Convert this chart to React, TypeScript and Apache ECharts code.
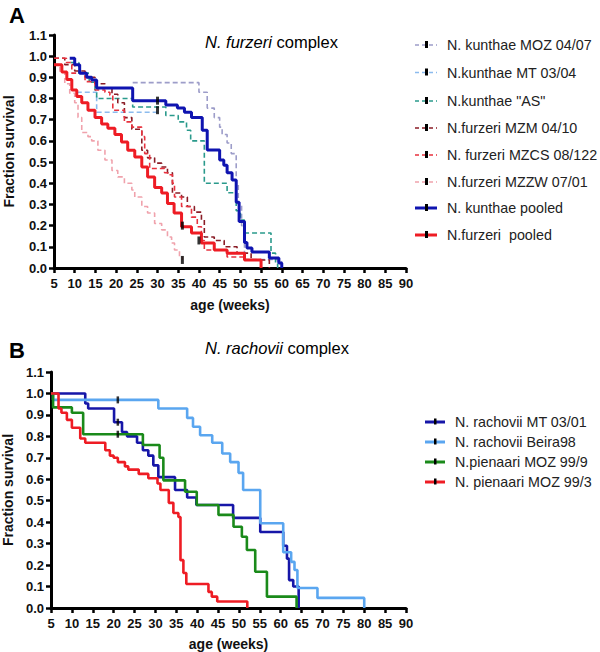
import React, { useEffect, useRef } from "react";
import * as echarts from "echarts";

const FONT = "'Liberation Sans', Arial, sans-serif";

// ---------- Panel A data (week, fraction surviving after that week) ----------
const aNames = [
  "N. kunthae MOZ 04/07",
  "N.kunthae MT 03/04",
  'N.kunthae "AS"',
  "N.furzeri MZM 04/10",
  "N. furzeri MZCS 08/122",
  "N.furzeri MZZW 07/01",
  "N. kunthae pooled",
  "N.furzeri  pooled",
];
const kuntMOZ0407 = [[24, 0.875], [40, 0.83], [42, 0.755], [43.7, 0.71], [45, 0.665], [45.6, 0.63], [46.8, 0.59], [47.8, 0.54], [49, 0.4], [49.5, 0.3], [50.3, 0.2], [51, 0.04], [59, 0.03], [60, 0]];
const kuntMT0304 = [[10.5, 0.83], [15.3, 0.735], [30, 0.735]];
const kuntAS = [[9, 0.97], [11, 0.92], [13.5, 0.877], [14.9, 0.84], [15.3, 0.8], [24, 0.76], [32, 0.72], [35, 0.69], [37, 0.65], [38, 0.6], [41.3, 0.4], [46.8, 0.355], [49, 0.27], [50, 0.226], [51, 0.165], [57.4, 0.07], [58.5, 0.02], [59, 0]];
const furzMZM0410 = [[5, 0.99], [7.6, 0.96], [10, 0.93], [12.5, 0.9], [14.9, 0.87], [17.3, 0.85], [19, 0.82], [20.4, 0.78], [22, 0.71], [23.8, 0.655], [26.2, 0.556], [27.6, 0.52], [29.3, 0.495], [31, 0.477], [32.4, 0.45], [33.6, 0.354], [35.8, 0.335], [37.2, 0.29], [38.9, 0.264], [40.6, 0.227], [41.3, 0.146], [43.7, 0.13], [46.1, 0.1], [49.2, 0.07], [52.6, 0.038], [57, 0]];
const furzMZCS08122 = [[5, 0.99], [8, 0.97], [9.3, 0.92], [12.5, 0.88], [14.9, 0.84], [17.3, 0.83], [18.5, 0.815], [19.2, 0.745], [22, 0.69], [23.8, 0.665], [26.2, 0.62], [26.9, 0.54], [28.1, 0.47], [31.7, 0.45], [32.4, 0.44], [33.6, 0.4], [34.1, 0.335], [35.8, 0.29], [38.2, 0.24], [39.6, 0.195], [40.6, 0.13], [41.3, 0.085], [46.8, 0.052], [50.9, 0.038], [55, 0]];
const furzMZZW0701 = [[5, 0.96], [6.4, 0.925], [7.6, 0.87], [8.8, 0.825], [10, 0.78], [10.8, 0.71], [11.7, 0.64], [13.2, 0.62], [14.1, 0.6], [15.6, 0.556], [17.3, 0.51], [19, 0.46], [20.4, 0.43], [22, 0.4], [23.8, 0.368], [24.5, 0.335], [26.2, 0.29], [27.6, 0.26], [29.3, 0.21], [31, 0.18], [32.4, 0.146], [33.4, 0.118], [34.1, 0.085], [35.3, 0.052], [36, 0.038]];
const kuntPooled = [[8.8, 0.99], [10, 0.96], [11.2, 0.92], [12.9, 0.9], [14.1, 0.887], [15.3, 0.85], [24, 0.79], [32, 0.77], [34.8, 0.755], [36.5, 0.735], [38.2, 0.71], [40.8, 0.65], [42, 0.557], [45, 0.51], [46, 0.485], [46.8, 0.45], [48, 0.415], [49, 0.31], [49.7, 0.22], [51, 0.12], [51.6, 0.095], [52.8, 0.075], [57, 0.047], [59.3, 0.024], [60, 0]];
const furzPooled = [[5, 0.96], [6.9, 0.925], [8.1, 0.89], [9.3, 0.84], [10.5, 0.81], [11.7, 0.78], [13.2, 0.745], [14.9, 0.71], [16.5, 0.68], [18, 0.66], [19.7, 0.63], [21.3, 0.595], [22.8, 0.556], [24.5, 0.524], [26.2, 0.477], [27.6, 0.43], [29.3, 0.38], [31, 0.354], [32.4, 0.305], [34, 0.26], [35.8, 0.195], [38.2, 0.165], [40.6, 0.118], [43.7, 0.085], [46.8, 0.07], [51, 0.038], [55, 0]];
const aSeries = [kuntMOZ0407, kuntMT0304, kuntAS, furzMZM0410, furzMZCS08122, furzMZZW0701, kuntPooled, furzPooled];
const aCensored = [[30, 0.79], [30, 0.745], [36, 0.2], [40, 0.13], [36, 0.038]];

// ---------- Panel B data ----------
const bNames = ["N. rachovii MT 03/01", "N. rachovii Beira98", "N.pienaari MOZ 99/9", "N. pienaari MOZ 99/3"];
const rachMT0301 = [[5, 1], [13.2, 0.953], [13.9, 0.93], [20.1, 0.866], [22, 0.82], [23.2, 0.8], [25.6, 0.77], [27, 0.735], [28.3, 0.71], [29.5, 0.665], [30.7, 0.61], [34.7, 0.55], [37.6, 0.515], [39.8, 0.48], [48.6, 0.42], [55.1, 0.354], [60.6, 0.29], [61.5, 0.23], [62, 0.13], [63, 0.1], [64.3, 0]];
const rachBeira98 = [[5, 1], [5.5, 0.97], [30.7, 0.93], [37.6, 0.886], [39, 0.845], [40.7, 0.805], [43.6, 0.77], [46, 0.72], [47.9, 0.68], [49.9, 0.63], [51, 0.55], [55.1, 0.395], [60.6, 0.26], [62.5, 0.215], [63.3, 0.177], [64, 0.093], [68.8, 0.047], [80, 0]];
const pienMOZ999 = [[5, 1], [5.5, 0.935], [10, 0.91], [12.7, 0.81], [27, 0.76], [31, 0.7], [31.9, 0.595], [37.1, 0.542], [39.9, 0.48], [45.1, 0.434], [48.7, 0.379], [50.7, 0.332], [51.9, 0.27], [53.9, 0.169], [56.7, 0.053], [63.8, 0]];
const pienMOZ993 = [[5, 1], [6.8, 0.93], [7.5, 0.91], [8.8, 0.877], [10, 0.84], [12, 0.79], [13.2, 0.77], [18, 0.735], [19.1, 0.71], [20, 0.7], [21, 0.68], [22.7, 0.66], [23.5, 0.645], [26, 0.625], [28.3, 0.605], [30.5, 0.58], [31.2, 0.55], [33.2, 0.49], [34.3, 0.443], [35.5, 0.424], [36, 0.223], [36.7, 0.163], [37.4, 0.112], [42.7, 0.075], [43.5, 0.053], [44.8, 0.03], [52, 0]];
const bSeries = [rachMT0301, rachBeira98, pienMOZ999, pienMOZ993];
const bCensored = [[21, 0.97], [21, 0.866], [21, 0.81]];

// ---------- styles ----------
const aColors = ["#9d9dc9", "#8cbbee", "#2a9a8c", "#8a1c26", "#e8323e", "#f0a2ac", "#0f14b0", "#ee1c24"];
const aDashed = [true, true, true, true, true, true, false, false];
const bColors = ["#1616a8", "#5aa6f0", "#1a8a1a", "#ee1c24"];

export default function App() {
  const ref = useRef<HTMLDivElement>(null);
  useEffect(() => {
    const chart = echarts.init(ref.current!, null, { renderer: "svg" });

    const xAxis = (gridIndex: number, nameGap: number) => ({
      type: "value",
      gridIndex,
      min: 5,
      max: 90,
      interval: 5,
      name: "age (weeks)",
      nameLocation: "middle",
      nameGap,
      nameTextStyle: { fontFamily: FONT, fontWeight: "bold", fontSize: 14, color: "#111" },
      axisLine: { show: true, onZero: false, lineStyle: { color: "#000", width: 3 } },
      axisTick: { show: true, length: 5, lineStyle: { color: "#000", width: 2.5 } },
      axisLabel: { fontFamily: FONT, fontWeight: "bold", fontSize: 13, color: "#111", margin: 9 },
      splitLine: { show: false },
    });
    const yAxis = (gridIndex: number, nameGap: number) => ({
      type: "value",
      gridIndex,
      min: 0,
      max: 1.1,
      interval: 0.1,
      name: "Fraction survival",
      nameLocation: "middle",
      nameGap,
      nameTextStyle: { fontFamily: FONT, fontWeight: "bold", fontSize: 14, color: "#111" },
      axisLine: { show: true, onZero: false, lineStyle: { color: "#000", width: 3 } },
      axisTick: { show: true, length: 5, lineStyle: { color: "#000", width: 2.5 } },
      axisLabel: {
        fontFamily: FONT,
        fontWeight: "bold",
        fontSize: 13,
        color: "#111",
        margin: 7,
        formatter: (v: number) => v.toFixed(1),
      },
      splitLine: { show: false },
    });

    const series: any[] = [];
    aSeries.forEach((d, i) => {
      series.push({
        type: "line",
        name: aNames[i],
        xAxisIndex: 0,
        yAxisIndex: 0,
        step: "end",
        data: d,
        symbol: "none",
        lineStyle: {
          color: aColors[i],
          width: aDashed[i] ? 1.6 : 3,
          type: aDashed[i] ? [5, 3] : "solid",
        },
        z: aDashed[i] ? 2 : 3,
      });
    });
    series.push({
      type: "scatter",
      xAxisIndex: 0,
      yAxisIndex: 0,
      data: aCensored,
      symbol: "rect",
      symbolSize: [3, 8],
      itemStyle: { color: "#000" },
      z: 5,
    });
    bSeries.forEach((d, i) => {
      series.push({
        type: "line",
        name: bNames[i],
        xAxisIndex: 1,
        yAxisIndex: 1,
        step: "end",
        data: d,
        symbol: "none",
        lineStyle: { color: bColors[i], width: 2.6 },
        z: 3,
      });
    });
    series.push({
      type: "scatter",
      xAxisIndex: 1,
      yAxisIndex: 1,
      data: bCensored,
      symbol: "rect",
      symbolSize: [2.5, 7],
      itemStyle: { color: "#000" },
      z: 5,
    });

    // legend drawn as graphic elements
    const graphic: any[] = [];
    const aRowY = [45, 72.5, 101, 128, 155, 182, 208, 235];
    aNames.forEach((n, i) => {
      const y = aRowY[i];
      graphic.push({
        type: "line",
        shape: { x1: 415, y1: y, x2: 437, y2: y },
        style: {
          stroke: aColors[i],
          lineWidth: aDashed[i] ? 1.6 : 3,
          lineDash: aDashed[i] ? [4, 3] : null,
        },
      });
      graphic.push({ type: "rect", shape: { x: 425, y: y - 4, width: 3, height: 7 }, style: { fill: "#000" } });
      graphic.push({
        type: "text",
        x: 447,
        y,
        style: { text: n, fontFamily: FONT, fontSize: 14.3, fill: "#222", verticalAlign: "middle" },
      });
    });
    const bRowY = [422, 442, 462, 482];
    bNames.forEach((n, i) => {
      const y = bRowY[i];
      graphic.push({
        type: "line",
        shape: { x1: 425, y1: y, x2: 445, y2: y },
        style: { stroke: bColors[i], lineWidth: 3 },
      });
      graphic.push({ type: "rect", shape: { x: 434, y: y - 3.5, width: 2.5, height: 6 }, style: { fill: "#000" } });
      graphic.push({
        type: "text",
        x: 455,
        y,
        style: { text: n, fontFamily: FONT, fontSize: 14.3, fill: "#222", verticalAlign: "middle" },
      });
    });
    graphic.push({
      type: "text",
      x: 9,
      y: 15,
      style: { text: "A", fontFamily: FONT, fontWeight: "bold", fontSize: 22, fill: "#000", verticalAlign: "middle" },
    });
    graphic.push({
      type: "text",
      x: 9,
      y: 350,
      style: { text: "B", fontFamily: FONT, fontWeight: "bold", fontSize: 22, fill: "#000", verticalAlign: "middle" },
    });
    graphic.push({
      type: "text",
      x: 205,
      y: 42,
      style: {
        text: "{i|N. furzeri} complex",
        fontFamily: FONT,
        fontSize: 16.5,
        fill: "#000",
        verticalAlign: "middle",
        rich: { i: { fontStyle: "italic", fontFamily: FONT, fontSize: 16.5, fill: "#000" } },
      },
    });
    graphic.push({
      type: "text",
      x: 205,
      y: 348,
      style: {
        text: "{i|N. rachovii} complex",
        fontFamily: FONT,
        fontSize: 16.5,
        fill: "#000",
        verticalAlign: "middle",
        rich: { i: { fontStyle: "italic", fontFamily: FONT, fontSize: 16.5, fill: "#000" } },
      },
    });

    chart.setOption({
      animation: false,
      backgroundColor: "#fff",
      grid: [
        { left: 54, top: 35, width: 352, height: 233, outerBoundsMode: "none", containLabel: false },
        { left: 51, top: 372, width: 355, height: 236, outerBoundsMode: "none", containLabel: false },
      ],
      xAxis: [xAxis(0, 30), xAxis(1, 29)],
      yAxis: [yAxis(0, 38), yAxis(1, 35)],
      series,
      graphic,
    });
    return () => chart.dispose();
  }, []);
  return (
    <div
      ref={ref}
      style={{ position: "fixed", left: 0, top: 0, width: 600, height: 652, background: "#fff" }}
    />
  );
}
